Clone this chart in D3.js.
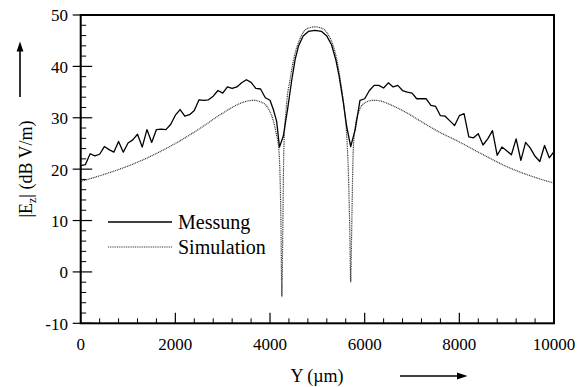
<!DOCTYPE html>
<html>
<head>
<meta charset="utf-8">
<script src="https://cdn.jsdelivr.net/npm/d3@7"></script>
<style>
  html, body { margin: 0; padding: 0; background: #fff; }
  svg { display: block; }
</style>
</head>
<body>
<svg id="chart" width="584" height="387"></svg>
<script>
// ---- Data ----
const messX = [0,100,200,300,400,500,600,700,800,900,1000,1100,1200,1300,1400,1500,1600,1700,1800,1900,
  2000,2100,2200,2300,2400,2500,2600,2700,2800,2900,3000,3100,3200,3300,3400,3500,3600,3700,3800,3900,
  4000,4070,4140,4200,4280,4370,4460,4530,4600,4700,4810,4950,5090,5200,5300,5390,5460,5550,5620,5705,
  5800,5900,6000,6100,6200,6300,6400,6500,6600,6700,6800,6900,7000,7100,7200,7300,7400,7500,7600,7700,
  7800,7900,8000,8100,8200,8300,8400,8500,8600,8700,8800,8900,9000,9100,9200,9300,9400,9500,9600,9700,
  9800,9900,10000];
const messY = [20.7,20.9,23.0,22.6,22.9,24.4,23.8,23.3,25.4,23.3,25.1,25.7,26.8,24.3,27.7,25.2,27.7,27.8,27.7,28.7,
  30.5,31.6,30.3,30.6,31.4,33.5,33.4,33.5,34.2,35.3,34.8,36.0,35.7,36.0,36.8,37.4,36.9,35.7,35.6,33.9,
  33.4,31.6,29.3,24.3,26.4,31.6,37.4,41.3,43.9,45.9,46.8,47.0,46.8,45.9,44.2,41.3,38.1,32.9,28.3,24.4,
  27.7,33.4,33.7,35.3,36.3,36.3,35.8,36.8,36.0,36.3,35.3,35.0,34.8,33.7,33.7,33.7,32.4,32.2,30.4,30.3,
  29.4,28.5,30.4,30.8,26.3,26.1,26.9,24.7,25.9,27.5,22.7,24.3,23.6,22.8,25.9,21.7,25.2,24.1,22.5,21.5,
  24.6,22.2,23.4];

const simX = [0,500,1000,1500,2000,2500,3000,3300,3500,3650,3800,3950,4050,4130,4190,4230,4250,4272,4292,4340,
  4430,4520,4600,4700,4800,4950,5100,5200,5300,5400,5480,5570,5620,5660,5685,5705,5725,5760,5810,5866,
  6000,6180,6320,6530,6900,7240,7600,8000,8300,8650,9000,9350,9700,10000];
const simY = [17.6,19.0,20.6,22.6,25.0,27.8,30.9,32.5,33.2,33.4,33.1,32.0,30.0,27.0,23.5,10,-4.8,10,23.8,31.6,
  37.8,42.2,44.6,46.6,47.4,47.7,47.4,46.6,44.9,41.8,37.6,31.6,26.5,18,8,-2,8,24,28.8,30.9,
  32.9,33.4,33.3,32.6,30.9,29.0,27.1,25.3,23.8,22.1,20.5,19.2,18.1,17.3];

const xTicks = [0,2000,4000,6000,8000,10000];
const yTicks = [-10,0,10,20,30,40,50];
const seriesNames = ["Messung","Simulation"];

const FONT = "'Liberation Serif', 'Times New Roman', Times, serif";

// ---- Layout ----
const svg = d3.select("#chart");
const x = d3.scaleLinear().domain([0,10000]).range([80.7,554]);
const y = d3.scaleLinear().domain([-10,50]).range([323.3,15]);

const messData = messX.map((d,i)=>[d,messY[i]]);
const simData = simX.map((d,i)=>[d,simY[i]]);

const clipId = "plotclip";
svg.append("clipPath").attr("id",clipId).append("rect")
  .attr("x",x(0)).attr("y",y(50)).attr("width",x(10000)-x(0)).attr("height",y(-10)-y(50));

const line = d3.line().x(d=>x(d[0])).y(d=>y(d[1]));
const simLine = d3.line().x(d=>x(d[0])).y(d=>y(d[1])).curve(d3.curveMonotoneX);

const g = svg.append("g").attr("clip-path",`url(#${clipId})`);
g.append("path").datum(simData).attr("d",simLine)
  .attr("fill","none").attr("stroke","#333").attr("stroke-width",1.2)
  .attr("stroke-dasharray","1,0.8");
g.append("path").datum(messData).attr("d",line)
  .attr("fill","none").attr("stroke","#000").attr("stroke-width",1.3)
  .attr("stroke-linejoin","round");

// ---- Axes ----
const xMinor = d3.range(0,10001,400).filter(v=>v%2000!==0);
const yMinor = d3.range(-10,51,2).filter(v=>v%10!==0);

const ax = svg.append("g");
ax.selectAll(".xminor").data(xMinor).enter().append("line")
  .attr("x1",d=>x(d)).attr("x2",d=>x(d)).attr("y1",y(-10)).attr("y2",y(-10)-5)
  .attr("stroke","#000").attr("stroke-width",1);
ax.selectAll(".xmajor").data(xTicks).enter().append("line")
  .attr("x1",d=>x(d)).attr("x2",d=>x(d)).attr("y1",y(-10)).attr("y2",y(-10)-10.5)
  .attr("stroke","#000").attr("stroke-width",1.2);
ax.selectAll(".yminor").data(yMinor).enter().append("line")
  .attr("x1",x(0)).attr("x2",x(0)+5.5).attr("y1",d=>y(d)).attr("y2",d=>y(d))
  .attr("stroke","#000").attr("stroke-width",1);
ax.selectAll(".ymajor").data(yTicks).enter().append("line")
  .attr("x1",x(0)-8).attr("x2",x(0)+11.5).attr("y1",d=>y(d)).attr("y2",d=>y(d))
  .attr("stroke","#000").attr("stroke-width",1.2);

// frame
svg.append("rect").attr("x",x(0)).attr("y",y(50))
  .attr("width",x(10000)-x(0)).attr("height",y(-10)-y(50))
  .attr("fill","none").attr("stroke","#000").attr("stroke-width",2);

// tick labels
ax.selectAll(".xlab").data(xTicks).enter().append("text")
  .attr("x",d=>x(d)).attr("y",350).attr("text-anchor","middle")
  .attr("font-family",FONT).attr("font-size",17).text(d=>d);
ax.selectAll(".ylab").data(yTicks).enter().append("text")
  .attr("x",68).attr("y",d=>y(d)).attr("dy","0.38em").attr("text-anchor","end")
  .attr("font-family",FONT).attr("font-size",17).text(d=>d);

// axis titles
const yt = svg.append("text").attr("transform","translate(32,169) rotate(-90)")
  .attr("text-anchor","middle").attr("font-family",FONT).attr("font-size",18);
yt.append("tspan").text("|E");
yt.append("tspan").attr("font-size",12).attr("dy",4).text("z");
yt.append("tspan").attr("dy",-4).text("| (dB V/m)");

svg.append("text").attr("x",317).attr("y",382).attr("text-anchor","middle")
  .attr("font-family",FONT).attr("font-size",18).text("Y (\u00B5m)");

// arrows
svg.append("line").attr("x1",20).attr("x2",20).attr("y1",97).attr("y2",49)
  .attr("stroke","#000").attr("stroke-width",1.6);
svg.append("path").attr("d","M20,41.5 L16.6,51.5 L23.4,51.5 Z").attr("fill","#000");
svg.append("line").attr("x1",400).attr("x2",459).attr("y1",376).attr("y2",376)
  .attr("stroke","#000").attr("stroke-width",1.6);
svg.append("path").attr("d","M467.5,376 L457,372.6 L457,379.4 Z").attr("fill","#000");

// legend
const leg = svg.append("g");
leg.append("line").attr("x1",108).attr("x2",172).attr("y1",222).attr("y2",222)
  .attr("stroke","#000").attr("stroke-width",1.3);
leg.append("text").attr("x",178).attr("y",229).attr("font-family",FONT).attr("font-size",20).text(seriesNames[0]);
leg.append("line").attr("x1",108).attr("x2",172).attr("y1",247).attr("y2",247)
  .attr("stroke","#333").attr("stroke-width",1.2).attr("stroke-dasharray","1,0.8");
leg.append("text").attr("x",178).attr("y",254).attr("font-family",FONT).attr("font-size",20).text(seriesNames[1]);
</script>
</body>
</html>
